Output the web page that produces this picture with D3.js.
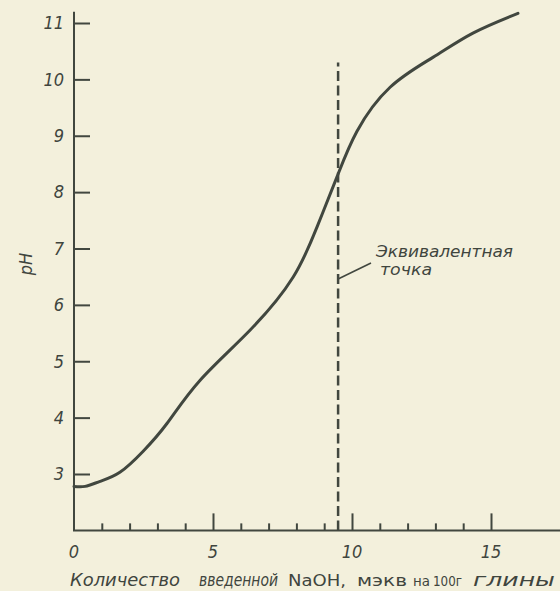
<!DOCTYPE html>
<html>
<head>
<meta charset="utf-8">
<script src="https://cdn.jsdelivr.net/npm/d3@7"></script>
<style>
  html, body { margin: 0; padding: 0; background: #f3f0dc; }
  svg { display: block; }
  text { font-family: "DejaVu Sans Condensed", "DejaVu Sans", sans-serif; fill: #3f453e; }
</style>
</head>
<body>
<svg id="chart" width="560" height="591"></svg>
<script>
// Titration curve: pH against NaOH added (meq per 100 g clay)
const naoh = [0, 0.4, 0.94, 1.65, 2.48, 3.35, 4.53, 6.33, 7.88, 8.74, 9.46, 10.18, 11.37, 12.91, 14.35, 15.97];
const ph   = [2.78, 2.78, 2.87, 3.03, 3.40, 3.90, 4.66, 5.55, 6.49, 7.38, 8.27, 9.08, 9.86, 10.39, 10.82, 11.17];

const xMajorTicks = [5, 10, 15];
const xMinorTicks = [1, 2, 3, 4, 6, 7, 8, 9, 11, 12, 13, 14];
const xTickLabels = [0, 5, 10, 15];
const yTicks = [3, 4, 5, 6, 7, 8, 9, 10, 11];
const equivalencePoint = 9.5;
const equivalenceTop = 10.3;

const ink = "#41473f";
const svg = d3.select("#chart");

const x = d3.scaleLinear().domain([0, 15]).range([74, 491]);
const y = d3.scaleLinear().domain([3, 11]).range([474, 23]);
const yBase = y(2);

// Y axis with ticks pointing into the plot
const yAxis = d3.axisLeft(y).tickValues(yTicks).tickSize(-16).tickPadding(10).tickFormat(d3.format("d"));
const gy = svg.append("g").attr("transform", `translate(${x(0)},0)`).call(yAxis);
gy.select(".domain").remove();
gy.selectAll(".tick line").attr("stroke", ink).attr("stroke-width", 2);
gy.selectAll(".tick text")
  .attr("fill", ink).attr("font-size", 18).attr("font-style", "italic")
  .attr("font-family", "'DejaVu Sans Condensed', sans-serif");
svg.append("line")
  .attr("x1", x(0)).attr("x2", x(0)).attr("y1", y(11.2)).attr("y2", yBase)
  .attr("stroke", ink).attr("stroke-width", 2);

// X axis: long major ticks, short minor ticks, both pointing up
const gxMajor = svg.append("g").attr("transform", `translate(0,${yBase})`)
  .call(d3.axisBottom(x).tickValues(xMajorTicks).tickSize(-17).tickFormat(""));
gxMajor.select(".domain").remove();
gxMajor.selectAll(".tick line").attr("stroke", ink).attr("stroke-width", 2);

const gxMinor = svg.append("g").attr("transform", `translate(0,${yBase})`)
  .call(d3.axisBottom(x).tickValues(xMinorTicks).tickSize(-7).tickFormat(""));
gxMinor.select(".domain").remove();
gxMinor.selectAll(".tick line").attr("stroke", ink).attr("stroke-width", 2);

svg.append("line")
  .attr("x1", x(0) - 1).attr("x2", 560).attr("y1", yBase).attr("y2", yBase)
  .attr("stroke", ink).attr("stroke-width", 2);

svg.append("g").selectAll("text").data(xTickLabels).join("text")
  .attr("x", d => x(d)).attr("y", yBase + 28)
  .attr("text-anchor", "middle").attr("font-size", 18).attr("font-style", "italic")
  .text(d => d);

// Axis titles
svg.append("text")
  .attr("transform", `translate(32,264) rotate(-90)`)
  .attr("text-anchor", "middle").attr("font-size", 18).attr("font-style", "italic")
  .text("pH");

const xTitleParts = [
  { t: "Количество", x: 70, w: 110, italic: true, size: 17 },
  { t: "введенной", x: 199, w: 79, italic: true, size: 17 },
  { t: "NaOH,", x: 288, w: 58, italic: false, size: 16 },
  { t: "мэкв", x: 357, w: 50, italic: false, size: 16 },
  { t: "на", x: 413, w: 17, italic: false, size: 14 },
  { t: "100г", x: 433, w: 29, italic: false, size: 14 },
  { t: "глины", x: 473, w: 82, italic: true, size: 17 }
];
svg.append("g").selectAll("text").data(xTitleParts).join("text")
  .attr("x", d => d.x).attr("y", 586)
  .attr("font-size", d => d.size)
  .attr("font-style", d => d.italic ? "italic" : "normal")
  .attr("textLength", d => d.w).attr("lengthAdjust", "spacingAndGlyphs")
  .text(d => d.t);

// Equivalence point marker
svg.append("line")
  .attr("x1", x(equivalencePoint)).attr("x2", x(equivalencePoint))
  .attr("y1", yBase).attr("y2", y(equivalenceTop))
  .attr("stroke", ink).attr("stroke-width", 2.5).attr("stroke-dasharray", "10,4.5");

svg.append("line")
  .attr("x1", x(equivalencePoint)).attr("y1", 279)
  .attr("x2", 371).attr("y2", 263)
  .attr("stroke", ink).attr("stroke-width", 1.6);

svg.append("text").attr("x", 376).attr("y", 257)
  .attr("font-size", 15).attr("font-style", "italic")
  .attr("textLength", 137).attr("lengthAdjust", "spacingAndGlyphs").text("Эквивалентная");
svg.append("text").attr("x", 380).attr("y", 275)
  .attr("font-size", 15).attr("font-style", "italic")
  .attr("textLength", 52).attr("lengthAdjust", "spacingAndGlyphs").text("точка");

// Titration curve
const line = d3.line()
  .x((d, i) => x(naoh[i]))
  .y(d => y(d))
  .curve(d3.curveNatural);

svg.append("path")
  .datum(ph)
  .attr("d", line)
  .attr("fill", "none").attr("stroke", ink).attr("stroke-width", 3)
  .attr("stroke-linecap", "round");
</script>
</body>
</html>
